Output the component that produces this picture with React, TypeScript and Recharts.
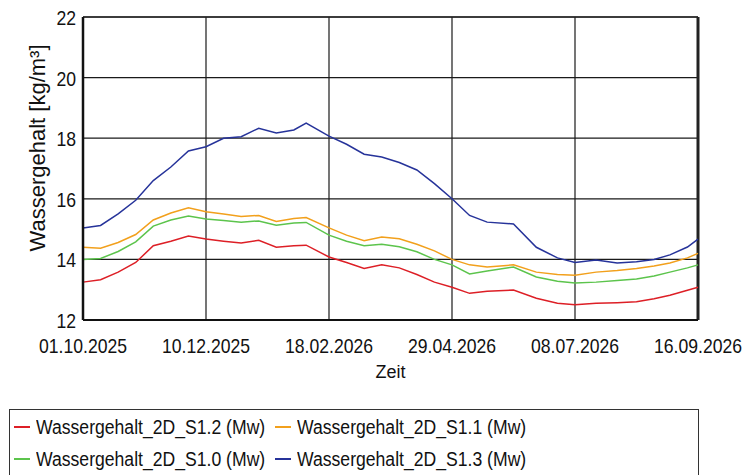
import React from "react";
import {
  LineChart,
  Line,
  XAxis,
  YAxis,
  CartesianGrid,
  ReferenceLine,
} from "recharts";

// days since 01.10.2025
const days = [
  0, 10, 20, 30, 40, 50, 60, 70, 80, 90, 100, 110, 120, 127, 140, 150, 160, 170,
  180, 190, 200, 210, 220, 230, 245, 258, 270, 280, 292, 304, 315, 325, 334, 344, 350,
];

const s12 = [
  13.25, 13.33, 13.58, 13.9, 14.45, 14.6, 14.77, 14.67, 14.6, 14.54, 14.63, 14.4, 14.45,
  14.47, 14.08, 13.9, 13.7, 13.82, 13.72, 13.5, 13.25, 13.08, 12.88, 12.95, 12.99, 12.72,
  12.55, 12.5, 12.55, 12.57, 12.6, 12.7, 12.82, 12.98, 13.08,
];
const s11 = [
  14.4, 14.37, 14.56, 14.82, 15.3, 15.53, 15.7, 15.57, 15.5, 15.42, 15.45, 15.25, 15.35,
  15.38, 15.04, 14.8, 14.62, 14.74, 14.68, 14.5, 14.28, 14.0, 13.82, 13.75, 13.82, 13.58,
  13.5, 13.48, 13.58, 13.63, 13.7, 13.78, 13.88, 14.05, 14.2,
];
const s10 = [
  14.0, 14.03, 14.26, 14.58, 15.1, 15.3, 15.43, 15.33, 15.28, 15.23, 15.27, 15.13, 15.2,
  15.22, 14.8, 14.6, 14.45, 14.5, 14.42, 14.25, 14.0, 13.82, 13.52, 13.62, 13.75, 13.42,
  13.28, 13.22, 13.25, 13.3, 13.35, 13.45, 13.58, 13.72, 13.82,
];
const s13 = [
  15.04, 15.12, 15.5, 15.95, 16.6, 17.05, 17.58, 17.72, 18.0, 18.05, 18.33, 18.17, 18.27,
  18.5, 18.07, 17.8, 17.47, 17.38, 17.2, 16.95, 16.5, 16.0, 15.45, 15.23, 15.17, 14.4,
  14.05, 13.9, 13.98, 13.88, 13.92, 14.0, 14.15, 14.41, 14.67,
];

const tickDays = [0, 70, 140, 210, 280, 350];
const tickLabels = ["01.10.2025", "10.12.2025", "18.02.2026", "29.04.2026", "08.07.2026", "16.09.2026"];
const yTicks = [12, 14, 16, 18, 20, 22];

const series = [
  { key: "s12", name: "Wassergehalt_2D_S1.2 (Mw)", color: "#dd1f26" },
  { key: "s11", name: "Wassergehalt_2D_S1.1 (Mw)", color: "#f2a01c" },
  { key: "s10", name: "Wassergehalt_2D_S1.0 (Mw)", color: "#5cc44c" },
  { key: "s13", name: "Wassergehalt_2D_S1.3 (Mw)", color: "#26339a" },
];

const data = days.map((d, i) => ({ day: d, s12: s12[i], s11: s11[i], s10: s10[i], s13: s13[i] }));

const font = '"Liberation Sans", Arial, sans-serif';

const XTick = ({ x, y, payload }: any) => {
  const idx = tickDays.indexOf(payload.value);
  return (
    <g transform={`translate(${x},${y})`}>
      <text transform="scale(0.88,1)" textAnchor="middle" y={33} fontSize={20} fill="#111" fontFamily={font}>
        {tickLabels[idx]}
      </text>
    </g>
  );
};

const YTick = ({ x, y, payload }: any) => (
  <g transform={`translate(${x},${y})`}>
    <text transform="scale(0.88,1)" textAnchor="end" x={-8} y={8} fontSize={20} fill="#111" fontFamily={font}>
      {payload.value}
    </text>
  </g>
);

export default function App() {
  return (
    <div
      style={{
        position: "fixed",
        left: 0,
        top: 0,
        width: 745,
        height: 475,
        background: "#fff",
        overflow: "hidden",
        fontFamily: font,
      }}
    >
      <LineChart width={745} height={475} data={data} margin={{ top: 17, right: 47, left: 0, bottom: 115 }}>
        <CartesianGrid stroke="#1a1a1a" strokeWidth={1.2} />
        <XAxis
          dataKey="day"
          type="number"
          domain={[0, 350]}
          ticks={tickDays}
          height={40}
          tickSize={0}
          tickMargin={0}
          tick={<XTick />}
          axisLine={{ stroke: "#111", strokeWidth: 2 }}
          interval={0}
          label={{
            content: ({ viewBox }: any) => (
              <text
                x={viewBox.x + viewBox.width / 2}
                y={viewBox.y + 58}
                textAnchor="middle"
                fontSize={18}
                fill="#111"
                fontFamily={font}
              >
                Zeit
              </text>
            ),
          }}
        />
        <YAxis
          type="number"
          domain={[12, 22]}
          ticks={yTicks}
          width={83}
          tickSize={0}
          tickMargin={0}
          tick={<YTick />}
          axisLine={{ stroke: "#111", strokeWidth: 2.5 }}
          interval={0}
          label={{
            content: () => (
              <text
                transform="translate(45,148) rotate(-90)"
                textAnchor="middle"
                fontSize={22}
                fill="#111"
                fontFamily={font}
              >
                Wassergehalt [kg/m³]
              </text>
            ),
          }}
        />
        <ReferenceLine x={350} stroke="#222" strokeWidth={3} />
        <ReferenceLine y={22} stroke="#222" strokeWidth={1.5} />
        {series.map((s) => (
          <Line
            key={s.key}
            type="linear"
            dataKey={s.key}
            name={s.name}
            stroke={s.color}
            strokeWidth={1.5}
            dot={false}
            isAnimationActive={false}
          />
        ))}
      </LineChart>
      <div
        style={{
          position: "absolute",
          left: 9,
          top: 409,
          width: 690,
          height: 80,
          border: "1px solid #333",
          boxSizing: "border-box",
          display: "grid",
          gridTemplateColumns: "261px 261px",
          gridAutoRows: "32px",
          paddingLeft: 4,
          paddingTop: 1,
        }}
      >
        {series.map((s) => (
          <div key={s.key} style={{ display: "flex", alignItems: "center", height: 32, width: 261, overflow: "visible" }}>
            <span style={{ display: "inline-block", flexShrink: 0, width: 16, height: 2, background: s.color }} />
            <span
              style={{
                marginLeft: 6,
                flexShrink: 0,
                fontSize: 20,
                color: "#111",
                whiteSpace: "nowrap",
                transform: "scaleX(0.88)",
                transformOrigin: "left center",
                display: "inline-block",
              }}
            >
              {s.name}
            </span>
          </div>
        ))}
      </div>
    </div>
  );
}
